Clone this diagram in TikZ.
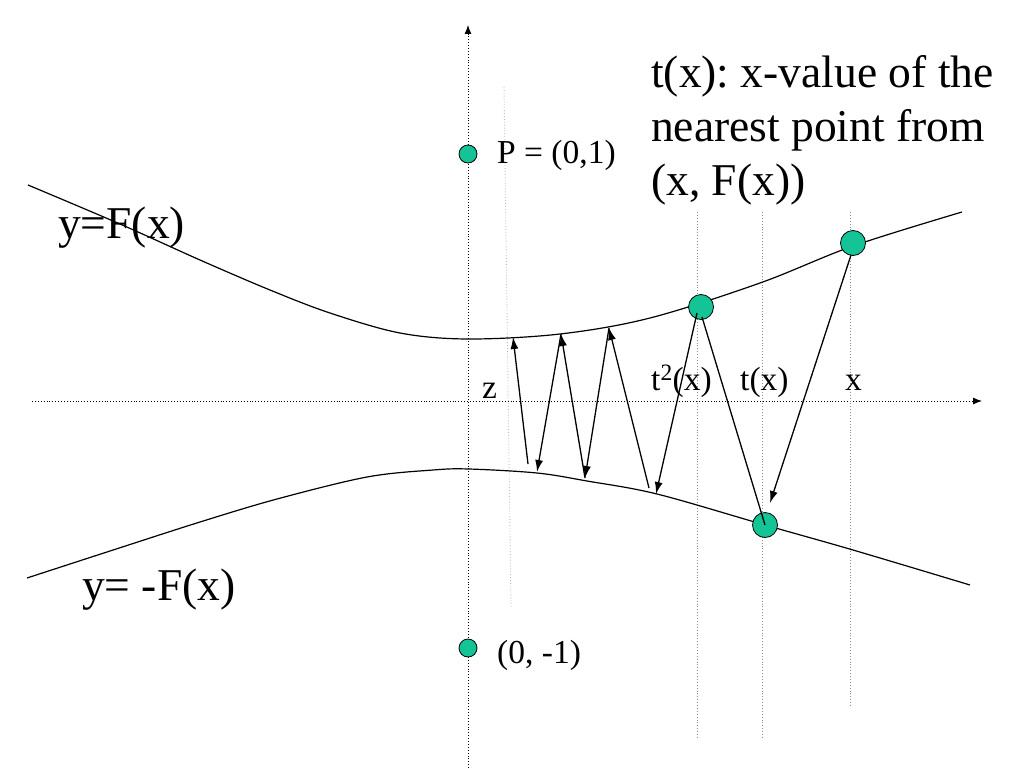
\documentclass[tikz,border=0pt]{standalone}
\usepackage{fontspec}
\setmainfont{Liberation Serif}
\usetikzlibrary{arrows.meta}
\definecolor{dotgreen}{RGB}{20,196,150}
\frenchspacing
\tikzset{
  axisline/.style={draw=black, line width=0.9pt, dotted},
  guide/.style={draw=black!45, line width=0.9pt, dotted},
  faintguide/.style={draw=black!25, line width=0.9pt, dotted},
  curve/.style={draw=black, line width=1.2pt},
  ray/.style={draw=black, line width=1.3pt, -{Latex[length=12pt,width=8pt]}},
  plainray/.style={draw=black, line width=1.3pt},
  smalldot/.style={circle, draw=black, line width=0.8pt, fill=dotgreen, minimum size=18pt, inner sep=0pt},
  bigdot/.style={circle, draw=black, line width=0.8pt, fill=dotgreen, minimum size=25pt, inner sep=0pt},
  bigtext/.style={font=\fontsize{45.5}{54.5}\selectfont, inner sep=0pt, anchor=base west},
  smalltext/.style={font=\fontsize{33.5}{40}\selectfont, inner sep=0pt, anchor=base west}
}
\begin{document}
\begin{tikzpicture}[x=1pt,y=-1pt]
\useasboundingbox[fill=white] (0,0) rectangle (1024,768);
% axes
\coordinate (yb) at (468,768);
\coordinate (yt) at (468,25);
\coordinate (xl) at (32,401);
\coordinate (xr) at (982,401);
\draw[axisline, -{Latex[length=9pt,width=7pt]}] (yb) -- (yt);
\draw[axisline, -{Latex[length=9pt,width=7pt]}] (xl) -- (xr);
% guide lines
\coordinate (za) at (504,87);   \coordinate (zb) at (511,607);
\coordinate (t2a) at (697,212); \coordinate (t2b) at (697,738);
\coordinate (t1a) at (762,212); \coordinate (t1b) at (762,738);
\coordinate (x0a) at (850,212); \coordinate (x0b) at (850,706);
\draw[faintguide] (za) -- (zb);
\draw[guide] (t2a) -- (t2b);
\draw[guide] (t1a) -- (t1b);
\draw[guide] (x0a) -- (x0b);
% curves
\draw[curve] plot[smooth, tension=0.55] coordinates {(28,185) (120,224) (200,260) (270,290) (330,313) (400,333) (468,339) (560,334) (650,318) (760,283) (853,246) (962,212)};
\draw[curve] plot[smooth, tension=0.55] coordinates {(27,578) (110,551) (200,522) (277,499) (367,477) (433,470) (469,469) (537,473) (587,481) (657,494) (765,525) (853,550) (970,585)};
% points
\node[smalldot] (P) at (468,154) {};
\node[smalldot] (Q) at (468,648) {};
\node[bigdot] (c2) at (701,307) {};
\node[bigdot] (c0) at (853,243) {};
\node[bigdot] (c1) at (765,525) {};
% zigzag
\coordinate (B1) at (528,464);
\coordinate (T1) at (513,337);
\coordinate (T2) at (561,334);
\coordinate (B2) at (537,472);
\coordinate (B3) at (585,478);
\coordinate (T3) at (609,328);
\coordinate (B4) at (649,488);
\coordinate (B5) at (656,494);
\coordinate (S2) at (697,313);
\coordinate (S0) at (851,255);
\coordinate (E1) at (770,503);
\draw[ray] (B1) -- (T1);
\draw[ray] (T2) -- (B2);
\draw[ray] (B3) -- (T2);
\draw[ray] (T3) -- (B3);
\draw[ray] (B4) -- (T3);
\draw[ray] (S2) -- (B5);
\draw[plainray] (c2.center) ++(1,10) -- (c1.center);
\draw[ray] (S0) -- (E1);
% labels
\node[bigtext] (lF) at (58,238) {y=F(x)};
\node[bigtext] (lmF) at (82,600) {y= -F(x)};
\node[bigtext] (desc) at (651,87) {t(x): x-value of the};
\node[bigtext] (desc2) at (651,141) {nearest point from};
\node[bigtext] (desc3) at (651,195) {(x, F(x))};
\node[smalltext] (lP) at (497,163) {P = (0,1)};
\node[smalltext] (lQ) at (497,663) {(0, -1)};
\node[smalltext] (lz) at (482,398) {z};
\node[smalltext] (lt2) at (651,390) {t\textsuperscript{2}(x)};
\node[smalltext] (lt1) at (740,390) {t(x)};
\node[smalltext] (lx) at (845,390) {x};
\end{tikzpicture}
\end{document}
